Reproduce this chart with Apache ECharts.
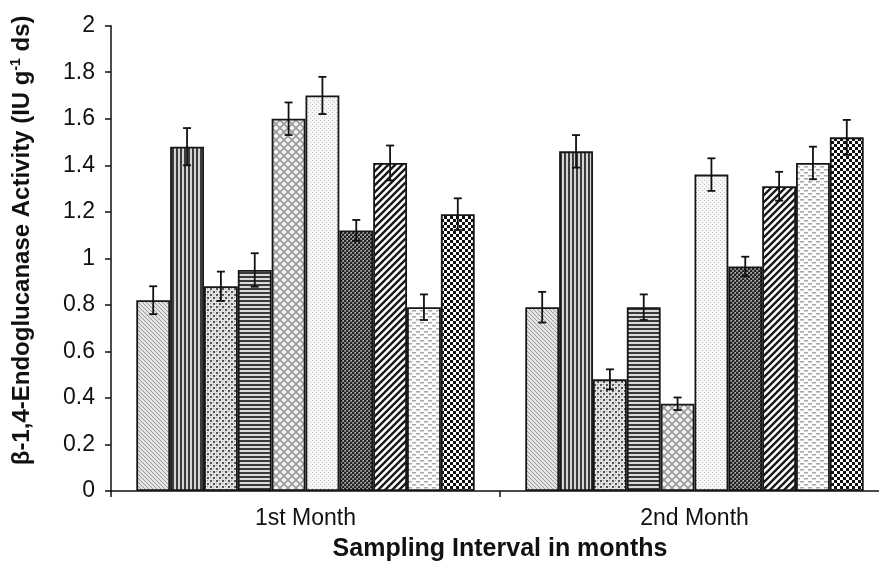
<!DOCTYPE html>
<html>
<head>
<meta charset="utf-8">
<script src="https://cdn.jsdelivr.net/npm/echarts@6/dist/echarts.min.js"></script>
<style>html,body{margin:0;padding:0;background:#fff}#chart{width:879px;height:568px}</style>
</head>
<body>
<div id="chart"></div>
<script>
// ---- data ----
const categories = ['1st Month', '2nd Month'];
const yTicks = [0, 0.2, 0.4, 0.6, 0.8, 1, 1.2, 1.4, 1.6, 1.8, 2];
const seriesNames = ['T1','T2','T3','T4','T5','T6','T7','T8','T9','T10'];
const t1 = [0.82, 0.79];
const t2 = [1.48, 1.46];
const t3 = [0.88, 0.48];
const t4 = [0.95, 0.79];
const t5 = [1.60, 0.375];
const t6 = [1.70, 1.36];
const t7 = [1.12, 0.965];
const t8 = [1.41, 1.31];
const t9 = [0.79, 1.41];
const t10 = [1.19, 1.52];
const e1 = [0.06, 0.066];
const e2 = [0.08, 0.07];
const e3 = [0.063, 0.043];
const e4 = [0.072, 0.055];
const e5 = [0.07, 0.027];
const e6 = [0.08, 0.07];
const e7 = [0.045, 0.042];
const e8 = [0.075, 0.062];
const e9 = [0.055, 0.07];
const e10 = [0.068, 0.075];
const values = [t1,t2,t3,t4,t5,t6,t7,t8,t9,t10];
const errors = [e1,e2,e3,e4,e5,e6,e7,e8,e9,e10];

// ---- patterns (style only) ----
function pat(w, h, draw) {
  const c = document.createElement('canvas');
  c.width = w; c.height = h;
  const ctx = c.getContext('2d');
  draw(ctx, w, h);
  return { image: c, repeat: 'repeat' };
}
const patterns = [
  pat(4, 4, (c) => { c.fillStyle = '#e4e4e4'; c.fillRect(0,0,4,4); c.fillStyle = '#9a9a9a'; for (let i=0;i<4;i++) c.fillRect(i,i,1,1); }),
  pat(4, 4, (c) => { c.fillStyle = '#d4d4d4'; c.fillRect(0,0,4,4); c.fillStyle = '#3c3c3c'; c.fillRect(0,0,2,4); }),
  pat(6, 6, (c) => { c.fillStyle = '#e2e2e2'; c.fillRect(0,0,6,6); c.fillStyle = '#555'; c.fillRect(0,0,2,2); c.fillRect(3,3,2,2); c.fillStyle='#999'; c.fillRect(3,0,1,1); c.fillRect(0,3,1,1); }),
  pat(4, 4, (c) => { c.fillStyle = '#dadada'; c.fillRect(0,0,4,4); c.fillStyle = '#3a3a3a'; c.fillRect(0,0,4,2); }),
  pat(8, 8, (c) => { c.fillStyle = '#f2f2f2'; c.fillRect(0,0,8,8); c.strokeStyle = '#9a9a9a'; c.lineWidth = 1.6;
      c.beginPath(); c.moveTo(-2,-2); c.lineTo(10,10); c.moveTo(10,-2); c.lineTo(-2,10); c.stroke(); }),
  pat(4, 4, (c) => { c.fillStyle = '#f7f7f7'; c.fillRect(0,0,4,4); c.fillStyle = '#c4c4c4'; c.fillRect(0,0,1,1); c.fillRect(2,2,1,1); }),
  pat(4, 4, (c) => { c.fillStyle = '#7a7a7a'; c.fillRect(0,0,4,4); c.fillStyle = '#222'; c.fillRect(0,0,2,2); c.fillRect(2,2,2,2); c.fillStyle='#b5b5b5'; c.fillRect(3,0,1,1); c.fillRect(1,2,1,1); }),
  pat(7, 7, (c) => { c.fillStyle = '#ffffff'; c.fillRect(0,0,7,7); c.strokeStyle = '#1a1a1a'; c.lineWidth = 2.4;
      c.beginPath(); c.moveTo(-1,8); c.lineTo(8,-1); c.moveTo(-8,8); c.lineTo(1,-1); c.moveTo(6,8); c.lineTo(15,-1); c.stroke(); }),
  pat(8, 6, (c) => { c.fillStyle = '#fbfbfb'; c.fillRect(0,0,8,6); c.fillStyle = '#a8a8a8'; c.fillRect(0,1,4,1.5); c.fillRect(4,4,4,1.5); }),
  pat(6, 6, (c) => { c.fillStyle = '#ffffff'; c.fillRect(0,0,6,6); c.fillStyle = '#111'; c.fillRect(0,0,3,3); c.fillRect(3,3,3,3); })
];

const CAT_GAP = 0.13;
const N = values.length;

const barSeries = values.map((v, i) => ({
  name: seriesNames[i],
  type: 'bar',
  data: v,
  barGap: '0%',
  barCategoryGap: (CAT_GAP * 100) + '%',
  itemStyle: { color: patterns[i], borderColor: '#161616', borderWidth: 1.8 },
  emphasis: { disabled: true },
  silent: true,
  animation: false
}));

const errData = [];
values.forEach((v, i) => v.forEach((val, k) => {
  errData.push([k, val - errors[i][k], val + errors[i][k], i]);
}));

const errSeries = {
  type: 'custom',
  data: errData,
  z: 10,
  silent: true,
  animation: false,
  encode: { x: 0, y: [1, 2] },
  renderItem: function (params, api) {
    const cat = api.value(0), lo = api.value(1), hi = api.value(2), si = api.value(3);
    const catW = api.size([1, 0])[0];
    const used = catW * (1 - CAT_GAP);
    const barW = used / N;
    const cx = api.coord([cat, 0])[0] - used / 2 + (si + 0.5) * barW;
    const yl = api.coord([cat, lo])[1];
    const yh = api.coord([cat, hi])[1];
    const cap = 4;
    const st = { stroke: '#111', lineWidth: 1.8 };
    return {
      type: 'group',
      children: [
        { type: 'line', shape: { x1: cx, y1: yl, x2: cx, y2: yh }, style: st },
        { type: 'line', shape: { x1: cx - cap, y1: yh, x2: cx + cap, y2: yh }, style: st },
        { type: 'line', shape: { x1: cx - cap, y1: yl, x2: cx + cap, y2: yl }, style: st }
      ]
    };
  }
};

const chart = echarts.init(document.getElementById('chart'), null, { renderer: 'canvas' });
chart.setOption({
  animation: false,
  backgroundColor: '#ffffff',
  textStyle: { fontFamily: 'Liberation Sans, Arial, sans-serif' },
  grid: { left: 111, top: 25.7, right: -10, bottom: 77, containLabel: false, outerBoundsMode: 'none' },
  xAxis: {
    type: 'category',
    data: categories,
    axisLine: { lineStyle: { color: '#111', width: 1.5 } },
    axisTick: { show: true, length: 6, lineStyle: { color: '#111', width: 1.5 } },
    axisLabel: { color: '#111', fontSize: 23, margin: 16, fontFamily: 'Liberation Sans' },
    name: 'Sampling Interval in months',
    nameLocation: 'middle',
    nameGap: 46,
    nameTextStyle: { color: '#111', fontSize: 25, fontWeight: 'bold', fontFamily: 'Liberation Sans' }
  },
  yAxis: {
    type: 'value',
    min: yTicks[0],
    max: yTicks[yTicks.length - 1],
    interval: 0.2,
    splitLine: { show: false },
    axisLine: { show: true, lineStyle: { color: '#111', width: 1.5 } },
    axisTick: { show: true, length: 6, lineStyle: { color: '#111', width: 1.5 } },
    axisLabel: { color: '#111', fontSize: 23, margin: 16, fontFamily: 'Liberation Sans' },
    name: 'β-1,4-Endoglucanase Activity (IU g{sup|-1} ds)',
    nameLocation: 'middle',
    nameGap: 76,
    nameRotate: 90,
    nameTextStyle: {
      color: '#111', fontSize: 24, fontWeight: 'bold', fontFamily: 'Liberation Sans',
      padding: [0, 0, 0, 36],
      rich: { sup: { fontSize: 14, fontWeight: 'bold', verticalAlign: 'top', padding: [0, 0, 12, 0], fontFamily: 'Liberation Sans', color: '#111' } }
    }
  },
  series: barSeries.concat([errSeries])
});
</script>
</body>
</html>
